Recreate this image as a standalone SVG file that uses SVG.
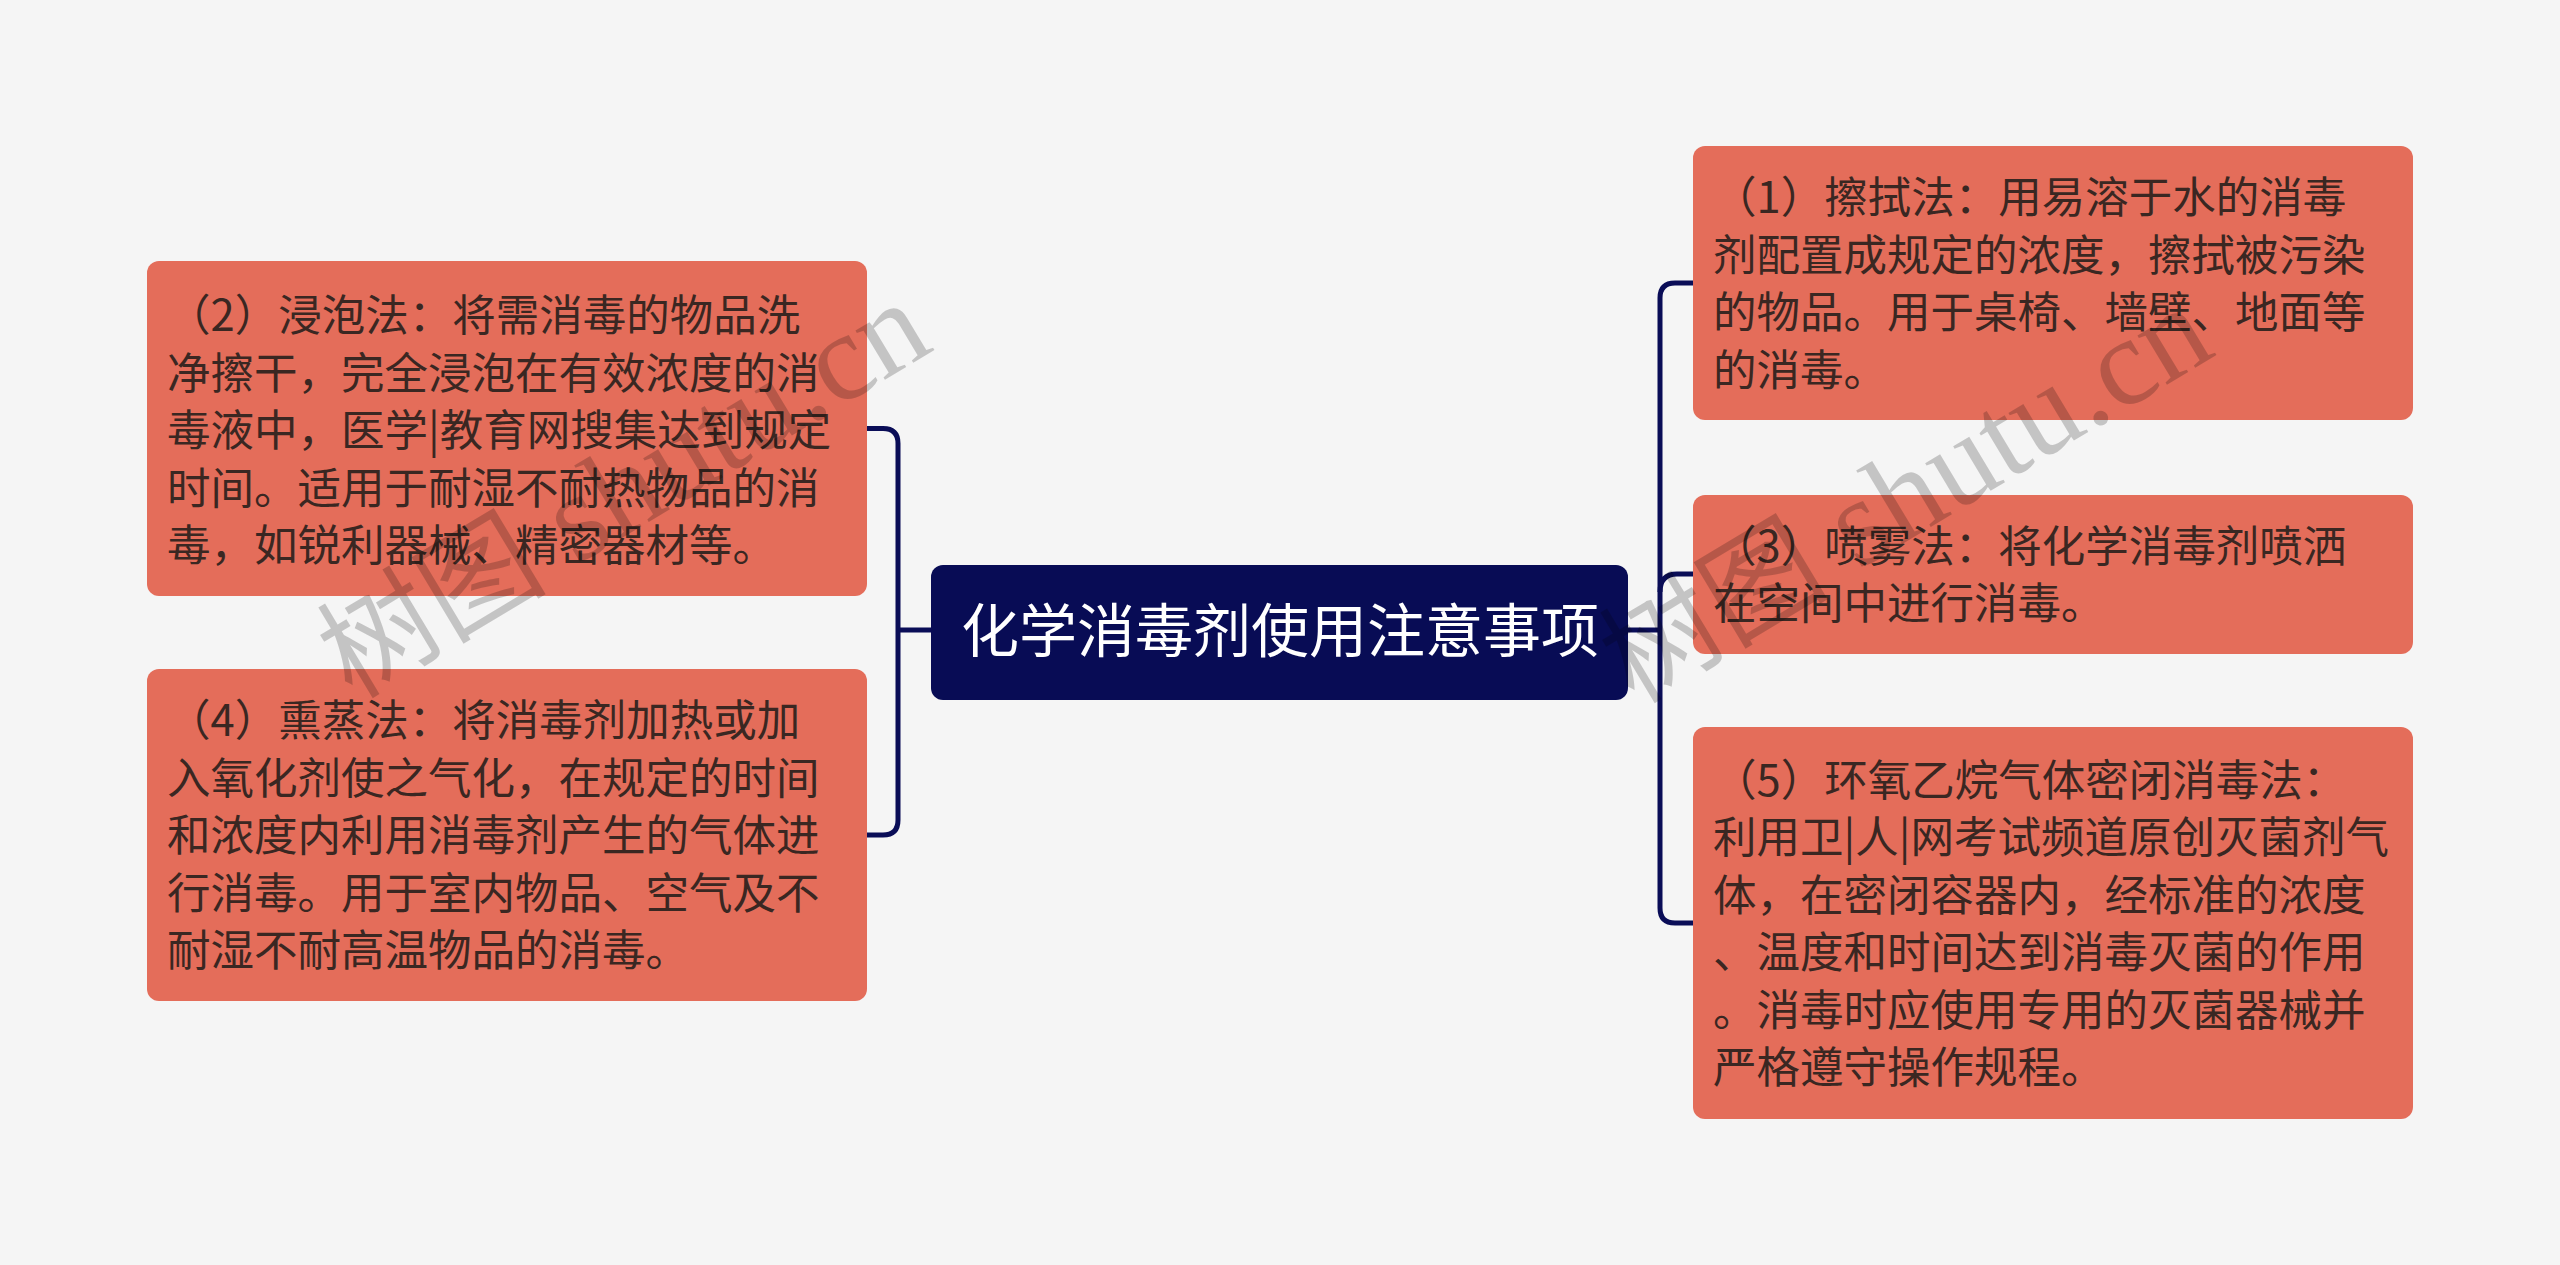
<svg xmlns="http://www.w3.org/2000/svg" width="2560" height="1265" viewBox="0 0 2560 1265">
<style>
.bg{fill:#f5f5f5}
.node rect{fill:#e46d5a}
.root rect{fill:#080c55}
.t{font-family:"Noto Sans CJK SC","Noto Sans",sans-serif;font-size:43.5px;fill:#3a2722}
.rt{font-family:"Noto Sans CJK SC","Noto Sans",sans-serif;font-size:58px;fill:#ffffff;text-anchor:middle}
.conn path{fill:none;stroke:#0a0d57;stroke-width:5}
.wm{font-family:"Liberation Serif","Noto Sans CJK SC",serif;fill:#000;fill-opacity:0.2}
</style>
<rect class="bg" x="0" y="0" width="2560" height="1265"/>
<g id="connectors" class="conn">
<path d="M931 630 H898"/>
<path d="M867 428.5 H883 Q898 428.5 898 443.5 V820 Q898 835 883 835 H867"/>
<path d="M1628 630 H1660"/>
<path d="M1693 283 H1675 Q1660 283 1660 298 V908 Q1660 923 1675 923 H1693"/>
<path d="M1660 592 Q1660 574 1677 574 H1693"/>
</g>
<g id="root" class="root">
<rect x="931" y="565" width="697" height="135" rx="12"/>
<text class="rt" x="1280" y="652">化学消毒剂使用注意事项</text>
</g>
<g id="n2" class="node">
<rect x="147" y="261" width="720" height="335" rx="12"/>
<text class="t"><tspan x="167" y="331">（2）浸泡法：将需消毒的物品洗</tspan><tspan x="167" y="388.5">净擦干，完全浸泡在有效浓度的消</tspan><tspan x="167" y="446">毒液中，医学|教育网搜集达到规定</tspan><tspan x="167" y="503.5">时间。适用于耐湿不耐热物品的消</tspan><tspan x="167" y="561">毒，如锐利器械、精密器材等。</tspan></text>
</g>
<g id="n4" class="node">
<rect x="147" y="669" width="720" height="332" rx="12"/>
<text class="t"><tspan x="167" y="736">（4）熏蒸法：将消毒剂加热或加</tspan><tspan x="167" y="793.5">入氧化剂使之气化，在规定的时间</tspan><tspan x="167" y="851">和浓度内利用消毒剂产生的气体进</tspan><tspan x="167" y="908.5">行消毒。用于室内物品、空气及不</tspan><tspan x="167" y="966">耐湿不耐高温物品的消毒。</tspan></text>
</g>
<g id="n1" class="node">
<rect x="1693" y="146" width="720" height="274" rx="12"/>
<text class="t"><tspan x="1713" y="213">（1）擦拭法：用易溶于水的消毒</tspan><tspan x="1713" y="270.5">剂配置成规定的浓度，擦拭被污染</tspan><tspan x="1713" y="328">的物品。用于桌椅、墙壁、地面等</tspan><tspan x="1713" y="385.5">的消毒。</tspan></text>
</g>
<g id="n3" class="node">
<rect x="1693" y="495" width="720" height="159" rx="12"/>
<text class="t"><tspan x="1713" y="561.5">（3）喷雾法：将化学消毒剂喷洒</tspan><tspan x="1713" y="619">在空间中进行消毒。</tspan></text>
</g>
<g id="n5" class="node">
<rect x="1693" y="727" width="720" height="392" rx="12"/>
<text class="t"><tspan x="1713" y="795.5">（5）环氧乙烷气体密闭消毒法：</tspan><tspan x="1713" y="853">利用卫|人|网考试频道原创灭菌剂气</tspan><tspan x="1713" y="910.5">体，在密闭容器内，经标准的浓度</tspan><tspan x="1713" y="968">、温度和时间达到消毒灭菌的作用</tspan><tspan x="1713" y="1025.5">。消毒时应使用专用的灭菌器械并</tspan><tspan x="1713" y="1083">严格遵守操作规程。</tspan></text>
</g>
<g id="watermarks">
<text class="wm" transform="translate(352 700) rotate(-31)"><tspan font-size="115">树图</tspan><tspan font-size="125"> shutu.cn</tspan></text>
<text class="wm" transform="translate(1634 705) rotate(-31)"><tspan font-size="115">树图</tspan><tspan font-size="125"> shutu.cn</tspan></text>
</g>
</svg>
